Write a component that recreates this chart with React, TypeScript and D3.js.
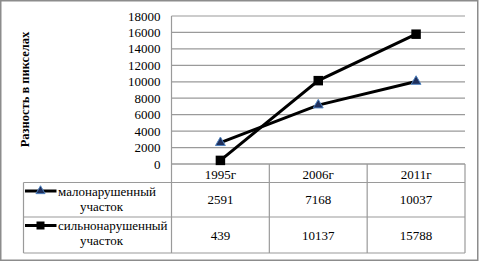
import React from "react";
import * as d3 from "d3";

const categories = ["1995г", "2006г", "2011г"];
const seriesNames = [
  ["малонарушенный", "участок"],
  ["сильнонарушенный", "участок"],
];
const weakValues = [2591, 7168, 10037];
const strongValues = [439, 10137, 15788];
const yTicks = [0, 2000, 4000, 6000, 8000, 10000, 12000, 14000, 16000, 18000];
const yTitle = "Разность в пикселах";

const W = 482;
const H = 262;
const plotL = 171.5;
const plotR = 465;
const plotT = 16;
const plotB = 164;
const tableL = 23.5;
const rowH = [164, 182.5, 217, 253];
const font = '"Liberation Serif", "Times New Roman", serif';

export default function App() {
  const y = d3.scaleLinear().domain([0, 18000]).range([plotB, plotT]);
  const x = d3.scaleBand<string>().domain(categories).range([plotL, plotR]);
  const cx = (c: string) => (x(c) as number) + x.bandwidth() / 2;
  const line = d3
    .line<number>()
    .x((_, i) => cx(categories[i]))
    .y((d) => y(d));
  const series = [weakValues, strongValues];
  const tri = d3.symbol().type(d3.symbolTriangle).size(42)();
  const sq = d3.symbol().type(d3.symbolSquare).size(90)();
  const legTri = d3.symbol().type(d3.symbolTriangle).size(36)();
  const legSq = d3.symbol().type(d3.symbolSquare).size(64)();

  const marker = (k: number, px: number, py: number, legend = false, key?: any) =>
    k === 0 ? (
      <path key={key} d={legend ? legTri : tri} transform={`translate(${px},${py})`} fill="#1f2f5c" stroke="#4f81bd" strokeWidth={1} />
    ) : (
      <path key={key} d={legend ? legSq : sq} transform={`translate(${px},${py})`} fill="#000" />
    );

  const ts = { fontFamily: font, fontSize: 13 } as React.CSSProperties;

  return (
    <div style={{ position: "absolute", left: 0, top: 0 }}>
      <svg width={W} height={H} style={{ display: "block", fontFamily: font }}>
        <rect x={0} y={0} width={W} height={H} fill="#fff" />
        <rect x={0.75} y={0.75} width={477} height={259.5} fill="none" stroke="#8c8c8c" strokeWidth={1.5} />
        {yTicks.map((t) => (
          <line key={t} x1={plotL} x2={plotR} y1={y(t)} y2={y(t)} stroke="#9a9a9a" strokeWidth={1.2} />
        ))}
        <line x1={plotL} x2={plotL} y1={plotT} y2={plotB} stroke="#9a9a9a" strokeWidth={1.2} />
        {yTicks.map((t) => (
          <text key={t} x={160.5} y={y(t) + 4.5} textAnchor="end" style={ts} fill="#000">
            {t}
          </text>
        ))}
        <text
          transform={`translate(29,89.5) rotate(-90)`}
          textAnchor="middle"
          style={{ fontFamily: font, fontSize: 12.5, fontWeight: "bold" }}
          fill="#000"
        >
          {yTitle}
        </text>
        <g stroke="#9a9a9a" strokeWidth={1.2} fill="none">
          <line x1={plotL} x2={plotR} y1={rowH[0]} y2={rowH[0]} />
          <line x1={tableL} x2={plotR} y1={rowH[1]} y2={rowH[1]} />
          <line x1={tableL} x2={plotR} y1={rowH[2]} y2={rowH[2]} />
          <line x1={tableL} x2={plotR} y1={rowH[3]} y2={rowH[3]} />
          <line x1={tableL} x2={tableL} y1={rowH[1]} y2={rowH[3]} />
          <line x1={plotL} x2={plotL} y1={rowH[0]} y2={rowH[3]} />
          {categories.map((c) => (
            <line key={c} x1={(x(c) as number) + x.bandwidth()} x2={(x(c) as number) + x.bandwidth()} y1={rowH[0]} y2={rowH[3]} />
          ))}
        </g>
        {categories.map((c) => (
          <text key={c} x={cx(c)} y={178.5} textAnchor="middle" style={ts} fill="#000">
            {c}
          </text>
        ))}
        {series.map((vals, k) => (
          <g key={k}>
            {vals.map((v, i) => (
              <text key={i} x={cx(categories[i])} y={(rowH[k + 1] + rowH[k + 2]) / 2 + 4.5} textAnchor="middle" style={ts} fill="#000">
                {v}
              </text>
            ))}
            <line x1={25} x2={56.5} y1={rowH[k + 1] + 8.5} y2={rowH[k + 1] + 8.5} stroke="#000" strokeWidth={3} />
            {marker(k, 40.5, rowH[k + 1] + 8.5, true)}
            <text x={58} y={rowH[k + 1] + 13} style={ts} fill="#000">
              {seriesNames[k][0]}
            </text>
            <text x={101.5} y={rowH[k + 1] + 28} textAnchor="middle" style={ts} fill="#000">
              {seriesNames[k][1]}
            </text>
          </g>
        ))}
        {series.map((vals, k) => (
          <g key={k}>
            <path d={line(vals) as string} fill="none" stroke="#000" strokeWidth={3} />
            {vals.map((v, i) => marker(k, cx(categories[i]), y(v), false, i))}
          </g>
        ))}
      </svg>
    </div>
  );
}
